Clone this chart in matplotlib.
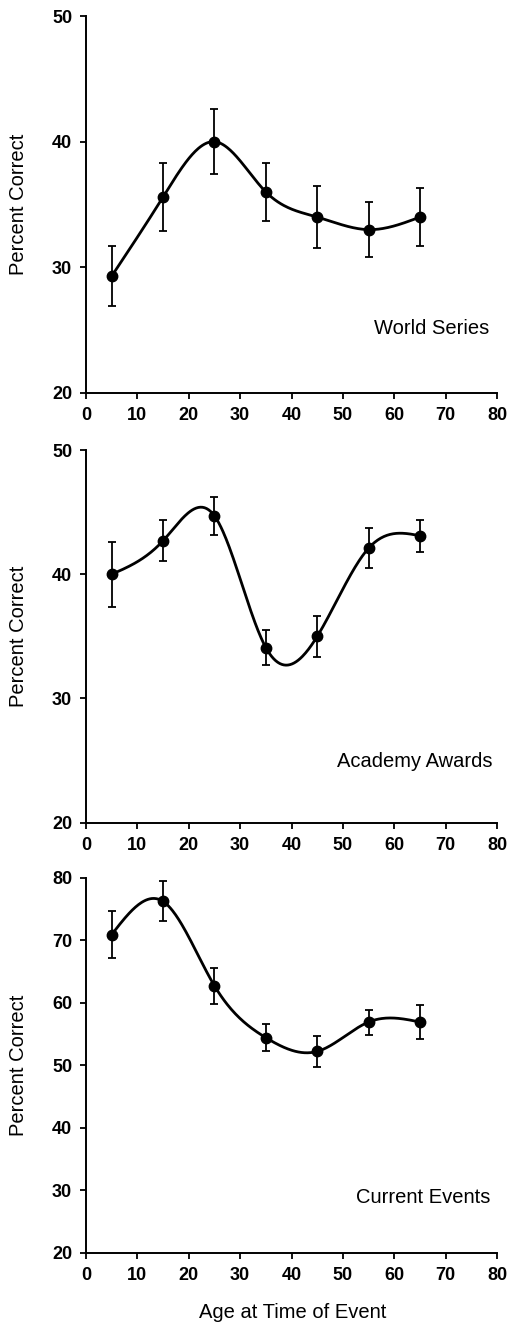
"""Percent correct by age at time of event: three stacked panels with smoothed curves."""

import matplotlib

matplotlib.use("Agg")

import matplotlib.pyplot as plt  # noqa: E402
import numpy as np  # noqa: E402

plt.rcParams["font.family"] = ["Liberation Sans", "DejaVu Sans"]

AGES = [5, 15, 25, 35, 45, 55, 65]

WORLD_SERIES = [29.3, 35.6, 40.0, 36.0, 34.0, 33.0, 34.0]
WORLD_SERIES_ERR = [2.4, 2.7, 2.6, 2.3, 2.5, 2.2, 2.3]

ACADEMY_AWARDS = [40.0, 42.7, 44.7, 34.1, 35.0, 42.1, 43.1]
ACADEMY_AWARDS_ERR = [2.6, 1.65, 1.55, 1.4, 1.65, 1.6, 1.3]

CURRENT_EVENTS = [70.9, 76.2, 62.7, 54.4, 52.2, 56.9, 56.9]
CURRENT_EVENTS_ERR = [3.8, 3.2, 2.9, 2.2, 2.5, 2.0, 2.7]

PANEL_NAMES = ["World Series", "Academy Awards", "Current Events"]
Y_RANGES = [(20, 50), (20, 50), (20, 80)]
X_TICKS = [0, 10, 20, 30, 40, 50, 60, 70, 80]


def _natural_spline(x, y, n=300):
    """Natural cubic spline through the points, for the smooth connecting line."""
    x = np.asarray(x, float)
    y = np.asarray(y, float)
    h = np.diff(x)
    m = len(x)
    A = np.zeros((m, m))
    rhs = np.zeros(m)
    A[0, 0] = A[-1, -1] = 1.0
    for i in range(1, m - 1):
        A[i, i - 1] = h[i - 1]
        A[i, i] = 2 * (h[i - 1] + h[i])
        A[i, i + 1] = h[i]
        rhs[i] = 3 * ((y[i + 1] - y[i]) / h[i] - (y[i] - y[i - 1]) / h[i - 1])
    c = np.linalg.solve(A, rhs)
    b = (y[1:] - y[:-1]) / h - h * (2 * c[:-1] + c[1:]) / 3
    d = (c[1:] - c[:-1]) / (3 * h)
    xs = np.linspace(x[0], x[-1], n)
    idx = np.clip(np.searchsorted(x, xs) - 1, 0, m - 2)
    dx = xs - x[idx]
    ys = y[idx] + b[idx] * dx + c[idx] * dx**2 + d[idx] * dx**3
    return xs, ys


fig = plt.figure(figsize=(5.09, 13.24), dpi=100)
positions = [
    [0.169, 0.7032, 0.8075, 0.2847],
    [0.169, 0.3786, 0.8075, 0.2815],
    [0.169, 0.0539, 0.8075, 0.2832],
]
series = [
    (WORLD_SERIES, WORLD_SERIES_ERR),
    (ACADEMY_AWARDS, ACADEMY_AWARDS_ERR),
    (CURRENT_EVENTS, CURRENT_EVENTS_ERR),
]
label_pos = [(0.98, 0.156), (0.99, 0.149), (0.983, 0.133)]

for k, (pos, (vals, errs), name, yr, lp) in enumerate(
    zip(positions, series, PANEL_NAMES, Y_RANGES, label_pos)
):
    ax = fig.add_axes(pos)
    xs, ys = _natural_spline(AGES, vals)
    ax.plot(xs, ys, color="black", linewidth=2.0, zorder=2)
    ax.errorbar(
        AGES, vals, yerr=errs, fmt="o", color="black", markersize=7.5,
        elinewidth=1.3, capsize=3, capthick=1.3, zorder=3,
    )
    ax.set_xlim(0, 80)
    ax.set_ylim(*yr)
    ax.set_xticks(X_TICKS)
    ax.set_yticks(np.arange(yr[0], yr[1] + 1, 10))
    for side in ("top", "right"):
        ax.spines[side].set_visible(False)
    for side in ("left", "bottom"):
        ax.spines[side].set_linewidth(1.4)
    ax.tick_params(direction="out", length=4, width=1.3, labelsize=13, pad=6)
    for t in ax.get_xticklabels() + ax.get_yticklabels():
        t.set_fontweight("bold")
    ax.set_ylabel("Percent Correct", fontsize=14.5)
    ax.yaxis.set_label_coords(-0.142, 0.5)
    ax.text(lp[0], lp[1], name, transform=ax.transAxes, ha="right",
            va="baseline", fontsize=14.5)
    if k == 2:
        ax.set_xlabel("Age at Time of Event", fontsize=14.5)
        ax.xaxis.set_label_coords(0.502, -0.134)

fig.savefig("out.png", dpi=100)
plt.close(fig)
